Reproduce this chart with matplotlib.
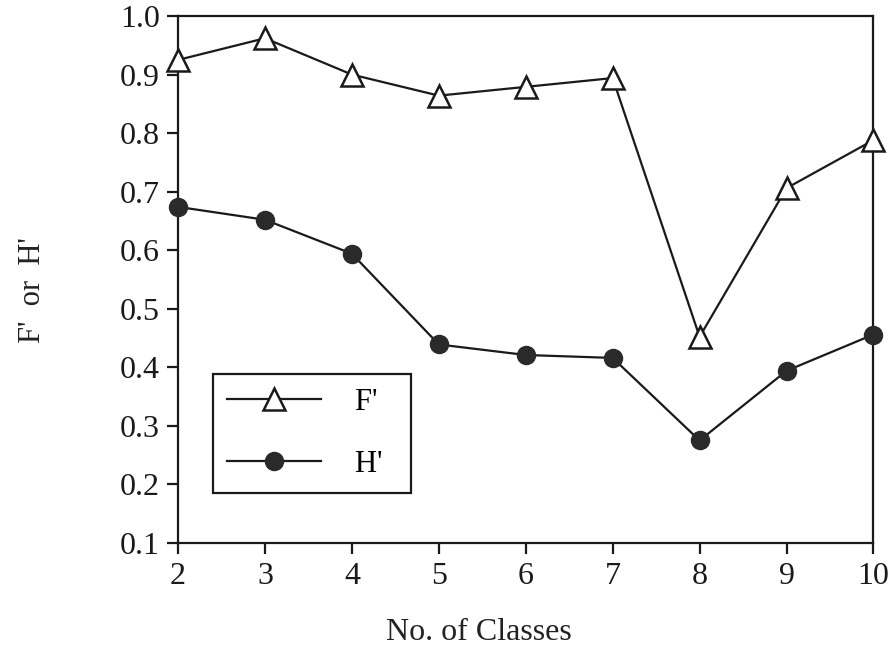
import numpy as np
import matplotlib.pyplot as plt

plt.rcParams['font.family'] = ['Liberation Serif', 'DejaVu Serif']

classes = [2, 3, 4, 5, 6, 7, 8, 9, 10]
f_prime = [0.925, 0.962, 0.900, 0.864, 0.879, 0.894, 0.452, 0.706, 0.788]
h_prime = [0.674, 0.652, 0.594, 0.439, 0.421, 0.416, 0.275, 0.394, 0.456]
yticks = np.arange(0.1, 1.01, 0.1)

fig = plt.figure(figsize=(8.92, 6.51), dpi=100)
ax = fig.add_axes([0.1996, 0.166, 0.7796, 0.8094])

ax.plot(classes, f_prime, color="#1a1a1a", lw=1.6, marker="^", ms=16,
        mfc="white", mec="#1a1a1a", mew=1.8, label="F'  ", zorder=3,
        clip_on=False)
ax.plot(classes, h_prime, color="#1a1a1a", lw=1.6, marker="o", ms=13,
        mfc="#2a2a2a", mec="#2a2a2a", label="H'  ", zorder=3, clip_on=False)

ax.set_xlim(2, 10)
ax.set_ylim(0.1, 1.0)
ax.set_xticks(classes)
ax.set_yticks(yticks)
ax.set_yticklabels([f"{v:.1f}" for v in yticks])

for s in ax.spines.values():
    s.set_linewidth(1.6)
    s.set_color("#1a1a1a")
ax.tick_params(direction="out", length=8, width=1.6, labelsize=23,
               colors="#1a1a1a")
ax.tick_params(axis="x", pad=6)
ax.tick_params(axis="y", pad=5)

ax.set_xlabel("No. of Classes", fontsize=23, color="#222222")
ax.set_ylabel("F'  or  H'", fontsize=22, color="#222222")
ax.xaxis.set_label_coords(0.432, -0.143)
ax.yaxis.set_label_coords(-0.188, 0.48)

leg = ax.legend(loc="upper left", bbox_to_anchor=(0.05, 0.321), fontsize=22,
                handlelength=3.1, handletextpad=1.1, labelspacing=1.1,
                borderpad=0.45, borderaxespad=0, fancybox=False,
                framealpha=1, edgecolor="#1a1a1a")
leg.get_frame().set_linewidth(1.6)

fig.savefig("out.png", dpi=100)
